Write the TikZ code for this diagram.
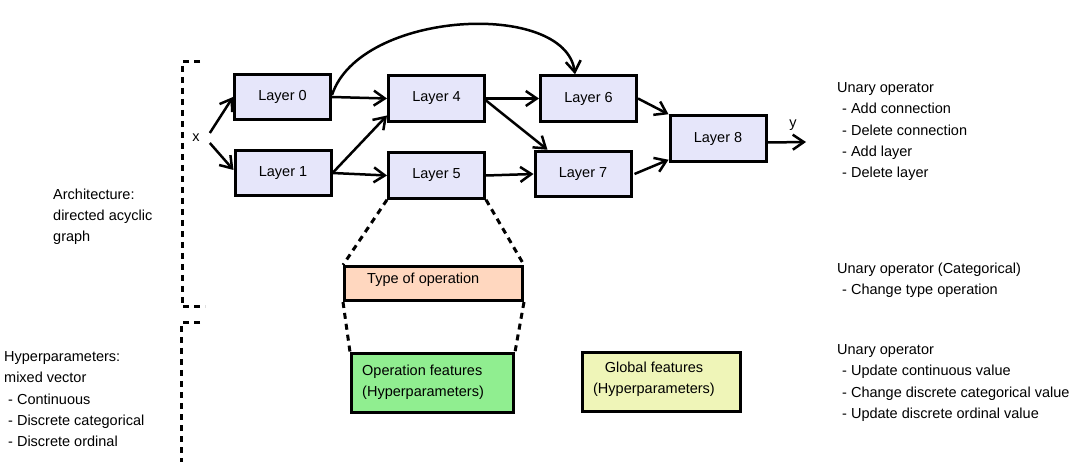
\documentclass[tikz,border=0pt]{standalone}
\usepackage{fontspec}
\setmainfont{Liberation Sans}
\usetikzlibrary{arrows.meta}
\definecolor{lav}{HTML}{E6E6FA}
\definecolor{peach}{HTML}{FFD7BF}
\definecolor{lgreen}{HTML}{90EE90}
\definecolor{lyellow}{HTML}{EFF5B8}
\begin{document}
\begin{tikzpicture}[x=1pt,y=-1pt,
  font=\fontsize{14.5}{21.3}\selectfont,
  layerbox/.style={draw, line width=3pt, fill=lav, minimum width=96pt, minimum height=45.5pt, inner sep=0},
  featbox/.style={draw, line width=3pt, inner sep=0},
  conn/.style={line width=2.5pt, -{Straight Barb[length=11pt,width=15pt,line width=2.5pt]}},
  dline/.style={line width=3pt, dash pattern=on 6pt off 5pt},
  txt/.style={anchor=north west, inner sep=0, align=left}]
\useasboundingbox (0,0) rectangle (1074,462);

% layer nodes
\node[layerbox] (L0) at (282.5,97) {Layer 0};
\node[layerbox] (L1) at (283,173) {Layer 1};
\node[layerbox] (L4) at (436.5,98.5) {Layer 4};
\node[layerbox] (L5) at (436.5,175.5) {Layer 5};
\node[layerbox] (L6) at (588.5,98.5) {Layer 6};
\node[layerbox] (L7) at (583,174) {Layer 7};
\node[layerbox] (L8) at (718,138.5) {Layer 8};

\node[inner sep=1pt] (X) at (196,138) {x};
\node[inner sep=0] (Y) at (793,125) {y};
\coordinate (Yend) at (806,142);

% connectors
\draw[conn] ([shift={(9pt,5pt)}]X.east) -- (L0.west);
\draw[conn] ([shift={(9pt,-5pt)}]X.east) -- ([yshift=3pt]L1.west);
\draw[conn] (L0.east) -- (L4.west);
\draw[conn] (L1.east) -- ([yshift=-17pt]L4.west);
\draw[conn] (L1.east) -- (L5.west);
\draw[conn] (L4.east) -- (L6.west);
\draw[conn] ([yshift=-2pt]L4.east) -- ([xshift=14pt]L7.north west);
\draw[conn] (L5.east) -- (L7.west);
\draw[conn] (L6.east) -- (L8.north west);
\draw[conn] ([xshift=2pt]L7.east) -- ([yshift=3pt]L8.south west);
\draw[conn] ([yshift=-4pt]L8.east) -- (Yend);
\draw[conn] ([yshift=2pt]L0.east) .. controls (360,10) and (565,0) .. ([xshift=-13.5pt]L6.north);

% feature boxes
\node[featbox, fill=peach, minimum width=178pt, minimum height=34pt] (TOP) at (433.5,283.5) {};
\node[txt] (TOPt) at (367,272.5) {Type of operation};
\node[featbox, fill=lgreen, minimum width=162pt, minimum height=59pt] (OPF) at (432.5,383) {};
\node[txt] (OPFt) at (362,364.5) {Operation features\\(Hyperparameters)};
\node[featbox, fill=lyellow, minimum width=158pt, minimum height=59pt] (GLF) at (661.5,382) {};
\node[align=center, inner sep=0] (GLFt) at (654,379) {Global features\\(Hyperparameters)};

% dashed zoom lines
\draw[dline] (L5.south west) -- (TOP.north west);
\draw[dline] (L5.south east) -- (TOP.north east);
\draw[dline] (TOP.south west) -- (OPF.north west);
\draw[dline] (TOP.south east) -- (OPF.north east);

% brackets
\draw[dline] (200,62) -- (182,62) -- (182,307) -- (205,307);
\draw[dline] (200,323) -- (181,323) -- (181,462);

% side texts
\node[txt] (ARCH) at (53,188.5) {Architecture:\\directed acyclic\\graph};
\node[txt] (HYP) at (4,351.5) {Hyperparameters:\\mixed vector\\\hspace*{4pt}- Continuous\\\hspace*{4pt}- Discrete categorical\\\hspace*{4pt}- Discrete ordinal};
\node[txt] (U1) at (837,82.5) {Unary operator\\\hspace*{5pt}- Add connection\\\hspace*{5pt}- Delete connection\\\hspace*{5pt}- Add layer\\\hspace*{5pt}- Delete layer};
\node[txt] (U2) at (837,262.5) {Unary operator (Categorical)\\\hspace*{5pt}- Change type operation};
\node[txt] (U3) at (837,344.5) {Unary operator\\\hspace*{5pt}- Update continuous value\\\hspace*{5pt}- Change discrete categorical value\\\hspace*{5pt}- Update discrete ordinal value};
\end{tikzpicture}
\end{document}
